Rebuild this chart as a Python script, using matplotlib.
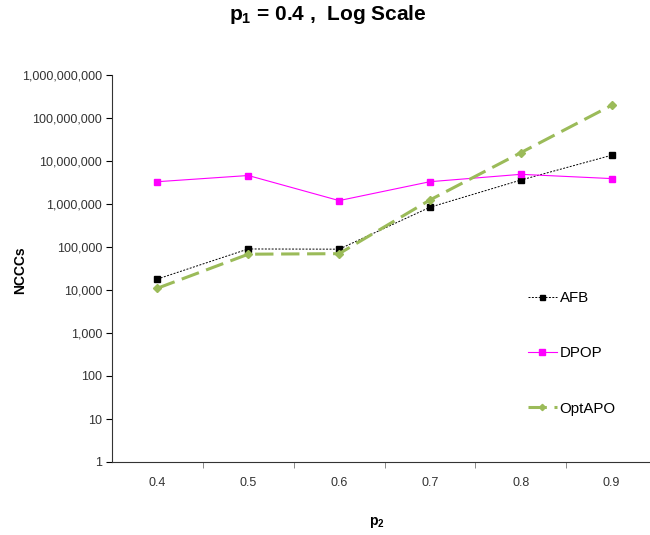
import matplotlib
matplotlib.use("Agg")
import matplotlib.pyplot as plt
from matplotlib.ticker import FuncFormatter, FixedLocator

plt.rcParams["font.family"] = ["Liberation Sans", "DejaVu Sans"]
plt.rcParams["mathtext.fontset"] = "custom"
plt.rcParams["mathtext.rm"] = "Liberation Sans"
plt.rcParams["mathtext.bf"] = "Liberation Sans:bold"
plt.rcParams["mathtext.it"] = "Liberation Sans:italic"

# p2 categories and NCCC counts
p2_labels = ["0.4", "0.5", "0.6", "0.7", "0.8", "0.9"]
afb = [18000, 90000, 89000, 840000, 3600000, 13600000]
dpop = [3300000, 4600000, 1200000, 3300000, 4900000, 3900000]
optapo = [11000, 68000, 70000, 1240000, 15600000, 197000000]

fig = plt.figure(figsize=(6.5, 5.35), dpi=100)
ax = fig.add_axes([112 / 650, 1 - 462 / 535, 545 / 650, 387 / 535])

x = list(range(len(p2_labels)))

ax.plot(x, afb, color="black", linestyle=(0, (2, 1.5)), linewidth=0.7,
        marker="s", markersize=4.5, label="AFB")
ax.plot(x, dpop, color="#FF00FF", linestyle="-", linewidth=0.8,
        marker="s", markersize=5, label="DPOP")
ax.plot(x, optapo, color="#9BBB59", linestyle=(0, (6, 2.5)), linewidth=2.2,
        marker="D", markersize=4, label="OptAPO")

ax.set_yscale("log")
ax.set_ylim(1, 1e9)
ax.set_xlim(-0.5, len(p2_labels) - 0.5)

ax.yaxis.set_major_locator(FixedLocator([10 ** k for k in range(10)]))
ax.yaxis.set_minor_locator(FixedLocator([]))
ax.yaxis.set_major_formatter(FuncFormatter(lambda v, p: f"{int(round(v)):,}"))

ax.set_xticks(x)
ax.set_xticklabels(p2_labels)
ax.set_xticks([i + 0.5 for i in range(len(p2_labels) - 1)], minor=True)
ax.tick_params(axis="x", which="major", length=0, pad=11, labelsize=9)
ax.tick_params(axis="x", which="minor", length=4, color="#777777")
ax.tick_params(axis="y", which="major", length=4, labelsize=9, pad=3)
ax.tick_params(axis="both", labelcolor="#333333")

for side in ["top", "right"]:
    ax.spines[side].set_visible(False)
for side in ["left", "bottom"]:
    ax.spines[side].set_color("#333333")
    ax.spines[side].set_linewidth(0.8)

fig.text(0.505, 1 - 14 / 535, r"$\mathbf{p_1}$ = 0.4 ,  Log Scale", ha="center", va="center",
         fontsize=15, fontweight="bold")
fig.text(377 / 650, 1 - 523 / 535, r"$\mathbf{p_2}$", ha="center", va="center",
         fontsize=10, fontweight="bold")
fig.text(20 / 650, 1 - 270 / 535, "NCCCs", ha="center", va="center",
         rotation=90, fontsize=10, fontweight="bold")

leg = ax.legend(loc="upper left", bbox_to_anchor=(528 / 650, 1 - 291 / 535),
                bbox_transform=fig.transFigure, frameon=False, fontsize=10.8,
                labelspacing=2.75, handlelength=1.9, handletextpad=0.2,
                borderpad=0, borderaxespad=0, markerscale=0.8)

fig.savefig("out.png", dpi=100)
